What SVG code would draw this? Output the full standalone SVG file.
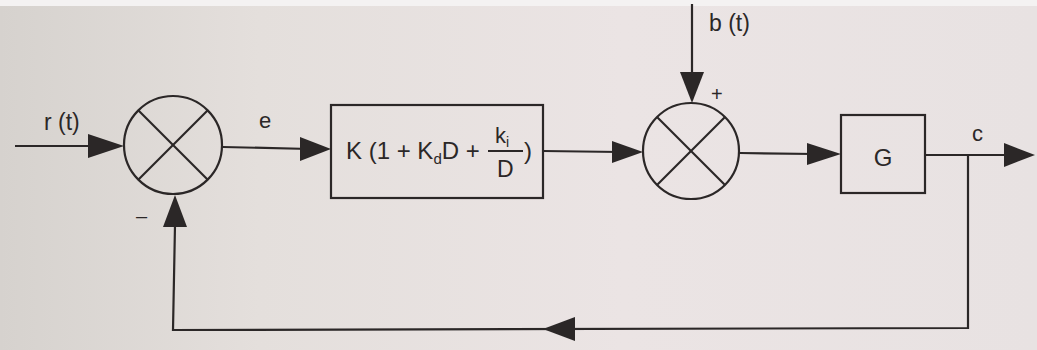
<svg xmlns="http://www.w3.org/2000/svg" width="1037" height="350" viewBox="0 0 1037 350">
<defs>
<linearGradient id="bg" x1="0" y1="0" x2="1" y2="0">
<stop offset="0" stop-color="#d6d2ce"/>
<stop offset="0.25" stop-color="#e4dfdc"/>
<stop offset="0.6" stop-color="#ebe4e4"/>
<stop offset="1" stop-color="#e8e2e2"/>
</linearGradient>
<style>
.ln{stroke:#2b2727;stroke-width:2.2;fill:none}
.bx{stroke:#2b2727;stroke-width:2.2;fill:none}
.ah{fill:#2b2727}
.t{font-family:"Liberation Sans",Arial,sans-serif;fill:#2b2727}
</style>
</defs>
<rect width="1037" height="350" fill="url(#bg)"/>
<rect width="1037" height="6" fill="#f4f2f2"/>

<g id="connectors">
<line class="ln" x1="15" y1="146" x2="100" y2="146"/>
<polygon class="ah" points="88,134 124,146 88,158"/>
<line class="ln" x1="223" y1="147" x2="310" y2="149"/>
<polygon class="ah" points="300,137 331,149 300,161"/>
<line class="ln" x1="543" y1="151" x2="620" y2="152"/>
<polygon class="ah" points="612,141 643,152 612,163"/>
<line class="ln" x1="692" y1="4" x2="692" y2="80"/>
<polygon class="ah" points="680,72 692,103 704,72"/>
<line class="ln" x1="740" y1="153" x2="815" y2="154"/>
<polygon class="ah" points="807,143 841,154 807,165"/>
<line class="ln" x1="925" y1="155" x2="1010" y2="155"/>
<polygon class="ah" points="1004,143 1035,155 1004,167"/>
<polyline class="ln" points="968,155 968,328 173,330 175,225"/>
<polygon class="ah" points="575,317 543,329 575,341"/>
<polygon class="ah" points="163,227 175,195 187,227"/>
</g>

<g id="sum1">
<circle class="ln" cx="173" cy="145" r="49"/>
<line class="ln" x1="138" y1="110" x2="208" y2="180"/>
<line class="ln" x1="208" y1="110" x2="138" y2="180"/>
</g>

<g id="controller">
<rect class="bx" x="331" y="105" width="212" height="93"/>
<text class="t" x="346" y="159" font-size="24">K (1 + K<tspan font-size="15" dy="5">d</tspan><tspan dy="-5">D +</tspan></text>
<text class="t" x="495" y="143" font-size="22">k<tspan font-size="14" dy="4">i</tspan></text>
<line class="ln" x1="488" y1="151" x2="523" y2="151" stroke-width="2"/>
<text class="t" x="497" y="177" font-size="23">D</text>
<text class="t" x="524" y="159" font-size="24">)</text>
</g>

<g id="sum2">
<circle class="ln" cx="691" cy="151" r="48"/>
<line class="ln" x1="657" y1="117" x2="725" y2="185"/>
<line class="ln" x1="725" y1="117" x2="657" y2="185"/>
</g>

<g id="plant">
<rect class="bx" x="841" y="115" width="84" height="78"/>
<text class="t" x="883" y="166" font-size="24" text-anchor="middle">G</text>
</g>

<g id="labels">
<text class="t" x="44" y="130" font-size="23">r (t)</text>
<text class="t" x="259" y="128" font-size="22">e</text>
<text class="t" x="709" y="31" font-size="23">b (t)</text>
<text class="t" x="711" y="101" font-size="20">+</text>
<text class="t" x="136" y="223" font-size="20">–</text>
<text class="t" x="972" y="141" font-size="22">c</text>
</g>
</svg>
